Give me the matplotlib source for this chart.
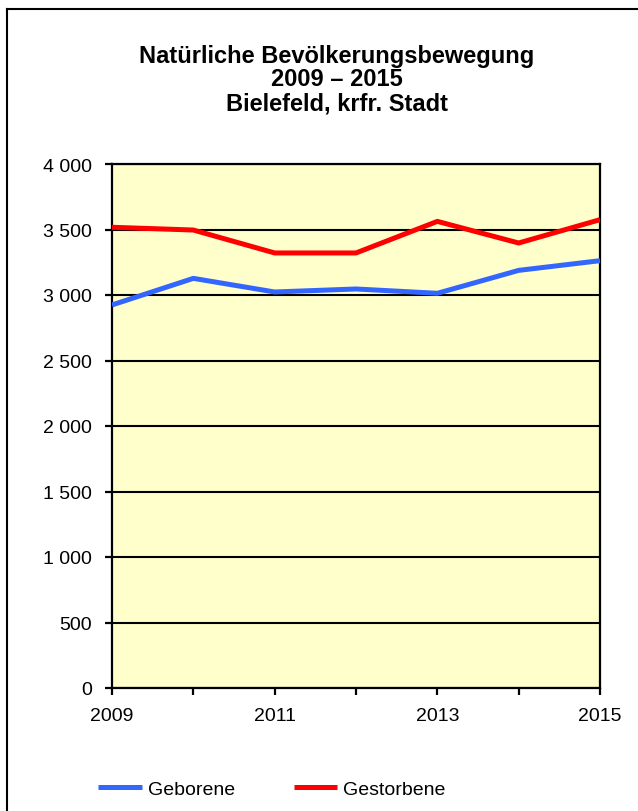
import matplotlib
matplotlib.use("Agg")
from matplotlib import pyplot as plt
from matplotlib.lines import Line2D
from matplotlib.ticker import FuncFormatter

years = [2009, 2010, 2011, 2012, 2013, 2014, 2015]
geborene = [2924, 3127, 3023, 3046, 3013, 3188, 3262]
gestorbene = [3517, 3496, 3321, 3321, 3562, 3397, 3575]
title = "Natürliche Bevölkerungsbewegung\n2009 – 2015\nBielefeld, krfr. Stadt"

plt.rcParams['font.family'] = ['Liberation Sans', 'DejaVu Sans']

fig = plt.figure(figsize=(6.38, 8.12), dpi=100)
ax = fig.add_axes([112/638, 1-689/812, 488/638, 524/812])
ax.set_facecolor('#FFFFCC')

ax.plot(years, geborene, color='#3366FF', lw=3.6, label='Geborene', solid_capstyle='butt', zorder=3)
ax.plot(years, gestorbene, color='#FF0000', lw=3.6, label='Gestorbene', solid_capstyle='butt', zorder=3)

ax.set_xlim(2009, 2015)
ax.set_ylim(0, 4000)
ax.set_yticks(range(0, 4001, 500))
ax.set_xticks(years)
ax.set_xticklabels([str(y) if (y - 2009) % 2 == 0 else '' for y in years])
ax.yaxis.set_major_formatter(FuncFormatter(lambda v, p: f"{int(v):,}".replace(',', ' ')))
ax.grid(axis='y', color='black', lw=1.5)
ax.set_axisbelow(True)
for s in ax.spines.values():
    s.set_linewidth(1.6)
ax.tick_params(axis='both', direction='out', length=5, width=1.6, labelsize=14)
ax.tick_params(axis='y', pad=9.5)
ax.tick_params(axis='x', pad=8.5)

fig.text(337/638, 1-80/812, title, ha='center', va='center', fontsize=17, fontweight='bold', linespacing=1.05)

fig.legend(loc='center', bbox_to_anchor=(272/638, 1-790/812), ncol=2, frameon=False, fontsize=14,
           handlelength=2.26, handletextpad=0.3, columnspacing=3.0)

# outer frame (top and left edges visible)
fig.add_artist(Line2D([7/638, 1], [1-10/812, 1-10/812], color='black', lw=1.5, transform=fig.transFigure))
fig.add_artist(Line2D([7/638, 7/638], [0, 1-10/812], color='black', lw=1.5, transform=fig.transFigure))

fig.savefig('out.png', dpi=100)
